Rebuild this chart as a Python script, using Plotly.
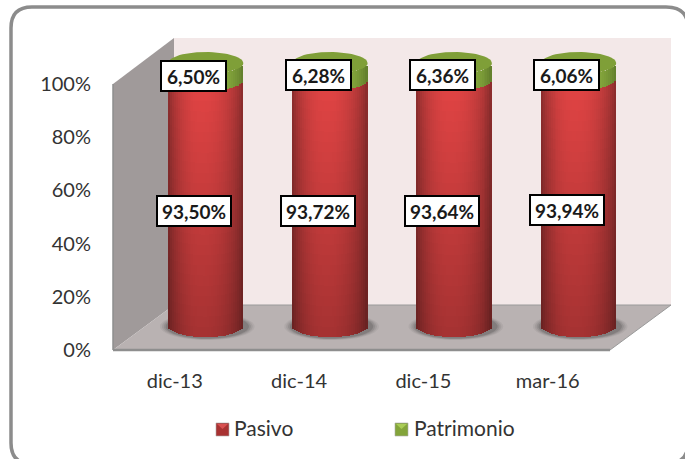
import numpy as np
import plotly.graph_objects as go

categories = ["dic-13", "dic-14", "dic-15", "mar-16"]
pasivo = [93.50, 93.72, 93.64, 93.94]
patrimonio = [6.50, 6.28, 6.36, 6.06]
y_ticks = [0, 20, 40, 60, 80, 100]
series_names = ["Pasivo", "Patrimonio"]

W, H = 685, 459
L, R, T, B = 113, 671, 38, 350      # plot area in pixels
CX0, CDX = 205.8, 124.3             # first cylinder centre, spacing
Y0_PX, PX_PER = 326.0, 2.63         # cylinder base centre, px per percent
RX_PX, RY_PX = 37.5, 11.0
FONT = "Lato"
TXT = "#333333"

def px_x(p): return (p - L) / (R - L)
def px_y(p): return (B - p) / (B - T)
def path(points, close=True):
    s = "M " + " L ".join(f"{px_x(x):.5f},{px_y(y):.5f}" for x, y in points)
    return s + (" Z" if close else "")

x_range = [(L - CX0) / CDX, (R - CX0) / CDX]
y2_range = [(Y0_PX - B) / PX_PER, (Y0_PX - T) / PX_PER]
y_range = [0, (B - T) / 2.66]
rx = RX_PX / CDX
ry = RY_PX / PX_PER

def shade(base, dark, u, t):
    d = (u + 0.1) / (1.1 if u > -0.1 else 0.9)
    h = np.clip(1 - abs(d) ** 2.2, 0, 1) ** 0.8
    c = np.array(dark) + (np.array(base) - np.array(dark)) * h
    c = c * (1 - 0.26 * (1 - t))
    return "rgb(%d,%d,%d)" % tuple(np.clip(c, 0, 255).astype(int))

def strips(starts, heights, base, dark, t0, t1, bands):
    xs, bs, ys, cols = [], [], [], []
    n = 38
    w = 1.0 / n
    for i, (s, h) in enumerate(zip(starts, heights)):
        for k in range(n):
            u = -1 + (k + 0.5) * 2 * w
            off = ry * np.sqrt(max(0, 1 - u * u))
            for b in range(bands):
                xs.append(i + u * rx)
                bs.append(s + h * b / bands - off)
                ys.append(h / bands)
                cols.append(shade(base, dark, u, t0 + (t1 - t0) * (b + 0.5) / bands))
    return xs, bs, ys, cols, 2 * rx * w

def ellipse(cx, cy, a, b):
    th = np.linspace(0, 2 * np.pi, 60)
    return cx + a * np.cos(th), cy + b * np.sin(th)

def data_path(ex, ey):
    return "M " + " L ".join(f"{a:.4f},{b:.4f}" for a, b in zip(ex, ey)) + " Z"

fig = go.Figure()

# keeps the percent axis alive
fig.add_trace(go.Scatter(x=[0], y=[0], mode="markers", marker=dict(opacity=0, size=1), xaxis="x", yaxis="y",
                         hoverinfo="skip", showlegend=False))

# Pasivo body
xs, bs, ys, cols, wd = strips([0] * 4, pasivo, (224, 68, 68), (134, 44, 44), 0, 1, 24)
fig.add_trace(go.Bar(x=xs, y=ys, base=bs, width=wd, xaxis="x", yaxis="y2", name=series_names[0],
                     marker=dict(color=cols, line=dict(width=0)), hoverinfo="skip", showlegend=False))
# Patrimonio body
xs, bs, ys, cols, wd = strips(pasivo, patrimonio, (146, 182, 66), (96, 124, 44), 1, 1, 2)
fig.add_trace(go.Bar(x=xs, y=ys, base=bs, width=wd, xaxis="x", yaxis="y2", name=series_names[1],
                     marker=dict(color=cols, line=dict(width=0)), hoverinfo="skip", showlegend=False))
# top caps
for i, (p, q) in enumerate(zip(pasivo, patrimonio)):
    ex, ey = ellipse(i, p + q, rx, ry)
    fig.add_trace(go.Scatter(x=ex, y=ey, xaxis="x", yaxis="y2", mode="lines", fill="toself",
                             fillcolor="#7F9F38", line=dict(width=0), hoverinfo="skip", showlegend=False))

def pct(v): return f"{v:.2f}".replace(".", ",") + "%"

annotations = []
for i, (p, q) in enumerate(zip(pasivo, patrimonio)):
    for text, y, ys_, wdt in [(pct(p), p / 2, -8, 70), (pct(q), p + q / 2, -4, 61)]:
        annotations.append(dict(x=i, y=y, xref="x", yref="y2", text=f"<b>{text}</b>", showarrow=False,
                                xshift=-12, yshift=ys_, width=wdt, height=26, align="center", valign="middle",
                                bgcolor="white", bordercolor="black", borderwidth=2, borderpad=1,
                                font=dict(family=FONT, size=19, color="#1a1a1a")))

shapes = [
    dict(type="path", xref="paper", yref="paper", layer="below", line=dict(color="#8C8C8C", width=3.5),
         path=(f"M {px_x(11):.5f},{px_y(28):.5f} Q {px_x(11):.5f},{px_y(7):.5f} {px_x(32):.5f},{px_y(7):.5f} "
               f"L {px_x(666):.5f},{px_y(7):.5f} Q {px_x(688):.5f},{px_y(7):.5f} {px_x(688):.5f},{px_y(28):.5f} "
               f"L {px_x(688):.5f},{px_y(443):.5f} Q {px_x(688):.5f},{px_y(464):.5f} {px_x(666):.5f},{px_y(464):.5f} "
               f"L {px_x(32):.5f},{px_y(464):.5f} Q {px_x(11):.5f},{px_y(464):.5f} {px_x(11):.5f},{px_y(443):.5f} Z")),
    dict(type="path", xref="paper", yref="paper", layer="below", fillcolor="#F3E8E8", line=dict(width=0),
         path=path([(174, 38), (671, 38), (671, 305), (174, 305)])),
    dict(type="path", xref="paper", yref="paper", layer="below", fillcolor="#A09A9A", line=dict(width=0),
         path=path([(113, 84), (174, 38), (174, 305), (113, 350)])),
    dict(type="path", xref="paper", yref="paper", layer="below", fillcolor="#B9B2B2", line=dict(width=0),
         path=path([(113, 350), (174, 305), (671, 305), (610, 350)])),
    dict(type="path", xref="paper", yref="paper", layer="below", line=dict(color="#8E8E8E", width=2.5),
         path=path([(113, 350), (610, 350)], close=False)),
    dict(type="path", xref="paper", yref="paper", layer="below", line=dict(color="#8E8E8E", width=1.5),
         path=path([(113, 84), (113, 350)], close=False)),
    dict(type="path", xref="paper", yref="paper", layer="below", line=dict(color="#9A9A9A", width=1),
         path=path([(174, 305), (671, 305), (610, 350)], close=False)),
]

# soft shadows on the floor
for scale, op in [(1.26, 0.08), (1.21, 0.11), (1.16, 0.15), (1.11, 0.22)]:
    for i in range(len(categories)):
        ex, ey = ellipse(i + 0.012, -0.2, rx * scale, ry * scale * 0.98)
        shapes.append(dict(type="path", xref="x", yref="y2", layer="below", path=data_path(ex, ey),
                           fillcolor=f"rgba(70,65,65,{op})", line=dict(width=0)))

# key: swatches and names
for name, sx, tx, dark, light in [(series_names[0], 216, 232, "#A83232", "#D85050"),
                                  (series_names[1], 395, 412, "#83A43A", "#A9CC55")]:
    shapes.append(dict(type="path", xref="paper", yref="paper", fillcolor=dark,
                       line=dict(color="rgba(170,170,170,0.6)", width=1),
                       path=path([(sx, 423), (sx + 13, 423), (sx + 13, 436), (sx, 436)])))
    shapes.append(dict(type="path", xref="paper", yref="paper", fillcolor=light, line=dict(width=0),
                       path=path([(sx + 1, 424), (sx + 12, 424), (sx + 6.5, 429)])))
    annotations.append(dict(x=px_x(tx), y=px_y(427), xref="paper", yref="paper", xanchor="left", yanchor="middle",
                            text=name, showarrow=False, font=dict(family=FONT, size=21, color=TXT)))

label_shift = -31 / CDX
fig.update_layout(
    width=W, height=H, autosize=False,
    margin=dict(l=L, r=W - R, t=T, b=H - B),
    paper_bgcolor="white", plot_bgcolor="rgba(0,0,0,0)",
    barmode="overlay", bargap=0, showlegend=False,
    font=dict(family=FONT, size=20, color=TXT),
    xaxis=dict(range=x_range, tickmode="array", tickvals=[i + label_shift for i in range(4)], ticktext=categories,
               showgrid=False, zeroline=False, showline=False, ticks="outside", ticklen=13,
               tickcolor="rgba(0,0,0,0)", tickfont=dict(family=FONT, size=20, color=TXT)),
    yaxis=dict(range=y_range, tickmode="array", tickvals=y_ticks, ticktext=[f"{v}%" for v in y_ticks],
               showgrid=False, zeroline=False, showline=False, ticks="outside", ticklen=17,
               tickcolor="rgba(0,0,0,0)", tickfont=dict(family=FONT, size=20, color=TXT)),
    yaxis2=dict(range=y2_range, overlaying="y", visible=False),
    annotations=annotations, shapes=shapes,
)
fig.write_html("out.html", post_script="document.body.style.margin='0';", config={"displayModeBar": False})
